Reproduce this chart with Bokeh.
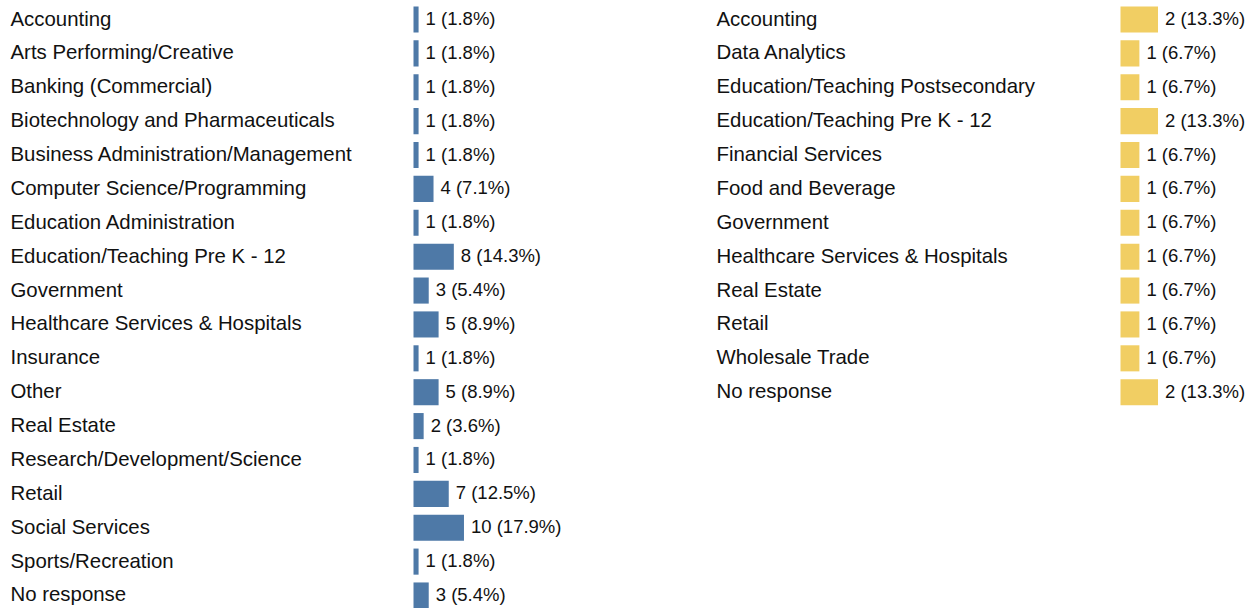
from bokeh.plotting import figure
from bokeh.layouts import row
from bokeh.models import Range1d, ColumnDataSource
from bokeh.core.properties import value
from bokeh.embed import file_html
from bokeh.resources import INLINE

left_categories = [
    "Accounting", "Arts Performing/Creative", "Banking (Commercial)",
    "Biotechnology and Pharmaceuticals", "Business Administration/Management",
    "Computer Science/Programming", "Education Administration",
    "Education/Teaching Pre K - 12", "Government", "Healthcare Services & Hospitals",
    "Insurance", "Other", "Real Estate", "Research/Development/Science",
    "Retail", "Social Services", "Sports/Recreation", "No response",
]
left_counts = [1, 1, 1, 1, 1, 4, 1, 8, 3, 5, 1, 5, 2, 1, 7, 10, 1, 3]
left_pcts = [1.8, 1.8, 1.8, 1.8, 1.8, 7.1, 1.8, 14.3, 5.4, 8.9, 1.8, 8.9, 3.6, 1.8, 12.5, 17.9, 1.8, 5.4]

right_categories = [
    "Accounting", "Data Analytics", "Education/Teaching Postsecondary",
    "Education/Teaching Pre K - 12", "Financial Services", "Food and Beverage",
    "Government", "Healthcare Services & Hospitals", "Real Estate", "Retail",
    "Wholesale Trade", "No response",
]
right_counts = [2, 1, 1, 2, 1, 1, 1, 1, 1, 1, 1, 2]
right_pcts = [13.3, 6.7, 6.7, 13.3, 6.7, 6.7, 6.7, 6.7, 6.7, 6.7, 6.7, 13.3]

FONT = "Liberation Sans"
PX_PER_PCT = 2.82
PITCH = 33.88
H = 608


def panel(cats, counts, pcts, color, width, label_px, bar_px):
    n = len(cats)
    x0 = -bar_px / PX_PER_PCT
    x1 = (width - bar_px) / PX_PER_PCT
    y_top = -19 / PITCH
    y_bot = 17 + (H - 595) / PITCH
    p = figure(width=width, height=H, output_backend="svg", toolbar_location=None,
               x_range=Range1d(x0, x1), y_range=Range1d(y_bot, y_top),
               min_border=0, outline_line_color=None)
    p.axis.visible = False
    p.grid.visible = False
    p.background_fill_color = "white"
    src = ColumnDataSource(dict(
        y=list(range(n)), cat=cats, pct=pcts,
        lab=[f"{c} ({v}%)" for c, v in zip(counts, pcts)],
        lx=[x0] * n,
    ))
    p.hbar(y="y", left=0, right="pct", height=0.77, color=color, line_color=None, source=src)
    p.text(x="lx", y="y", text="cat", x_offset=label_px, y_offset=-1, text_baseline="middle",
           text_font=value(FONT), text_font_size="20.4px", text_color="#111111", source=src)
    p.text(x="pct", y="y", text="lab", x_offset=7, y_offset=-1, text_baseline="middle",
           text_font=value(FONT), text_font_size="18.5px", text_color="#111111", source=src)
    return p


p1 = panel(left_categories, left_counts, left_pcts, "#4e79a7", 700, 10, 413)
p2 = panel(right_categories, right_counts, right_pcts, "#f1ce63", 550, 16, 420)
layout = row(p1, p2, spacing=0)

open("out.html", "w").write(file_html(layout, INLINE))
